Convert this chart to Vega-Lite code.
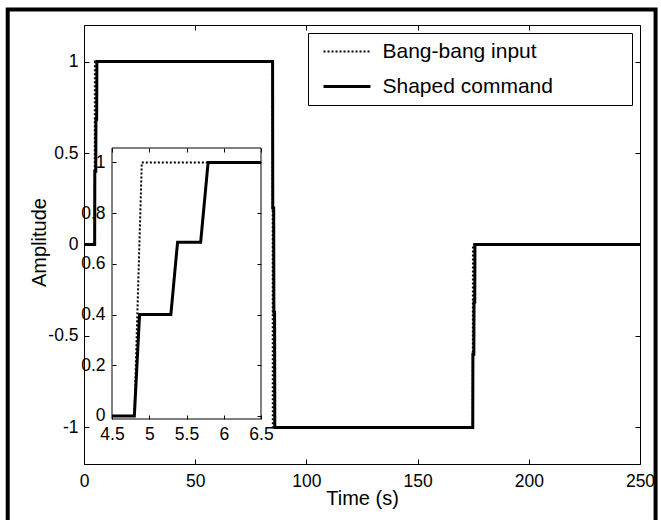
{
  "$schema": "https://vega.github.io/schema/vega-lite/v6.json",
  "width": 556,
  "height": 439,
  "autosize": {"type": "none"},
  "padding": {"left": 84, "top": 25, "right": 21, "bottom": 56},
  "background": "white",
  "config": {
    "font": "Liberation Sans",
    "view": {"stroke": "black", "strokeWidth": 1},
    "axis": {
      "labelFont": "Liberation Sans",
      "labelFontSize": 17.5,
      "labelColor": "black",
      "tickColor": "black",
      "tickWidth": 1,
      "domainColor": "black",
      "domainWidth": 1,
      "titleColor": "black",
      "titleFont": "Liberation Sans",
      "titleFontSize": 20,
      "titleFontWeight": "normal",
      "grid": false,
      "labelFlush": false,
      "labelOverlap": false,
      "labelBound": false,
      "format": ".6~g",
      "labelExpr": "replace(datum.label, '\u2212', '-')"
    },
    "legend": {
      "orient": "top-right",
      "offset": 8,
      "padding": 8,
      "symbolStrokeColor": "black",
      "symbolStrokeWidth": 2.5,
      "labelFont": "Liberation Sans",
      "labelFontSize": 21,
      "labelColor": "black",
      "labelLimit": 1000,
      "strokeColor": "black",
      "fillColor": "white"
    }
  },
  "datasets": {
    "main": [
      {"series": "Bang-bang input", "t": 0, "v": 0},
      {"series": "Bang-bang input", "t": 4.8, "v": 0},
      {"series": "Bang-bang input", "t": 4.9, "v": 1},
      {"series": "Bang-bang input", "t": 84.8, "v": 1},
      {"series": "Bang-bang input", "t": 84.9, "v": -1},
      {"series": "Bang-bang input", "t": 174.8, "v": -1},
      {"series": "Bang-bang input", "t": 174.9, "v": 0},
      {"series": "Bang-bang input", "t": 250, "v": 0},
      {"series": "Shaped command", "t": 0, "v": 0},
      {"series": "Shaped command", "t": 4.8, "v": 0},
      {"series": "Shaped command", "t": 4.87, "v": 0.4},
      {"series": "Shaped command", "t": 5.29, "v": 0.4},
      {"series": "Shaped command", "t": 5.38, "v": 0.685},
      {"series": "Shaped command", "t": 5.69, "v": 0.685},
      {"series": "Shaped command", "t": 5.79, "v": 1},
      {"series": "Shaped command", "t": 84.8, "v": 1},
      {"series": "Shaped command", "t": 84.87, "v": 0.2},
      {"series": "Shaped command", "t": 85.29, "v": 0.2},
      {"series": "Shaped command", "t": 85.38, "v": -0.37},
      {"series": "Shaped command", "t": 85.69, "v": -0.37},
      {"series": "Shaped command", "t": 85.79, "v": -1},
      {"series": "Shaped command", "t": 174.8, "v": -1},
      {"series": "Shaped command", "t": 174.87, "v": -0.6},
      {"series": "Shaped command", "t": 175.29, "v": -0.6},
      {"series": "Shaped command", "t": 175.38, "v": -0.315},
      {"series": "Shaped command", "t": 175.69, "v": -0.315},
      {"series": "Shaped command", "t": 175.79, "v": 0},
      {"series": "Shaped command", "t": 250, "v": 0}
    ],
    "inset": [
      {"series": "Bang-bang input", "t": 4.5, "v": 0},
      {"series": "Bang-bang input", "t": 4.8, "v": 0},
      {"series": "Bang-bang input", "t": 4.9, "v": 1},
      {"series": "Bang-bang input", "t": 6.5, "v": 1},
      {"series": "Shaped command", "t": 4.5, "v": 0},
      {"series": "Shaped command", "t": 4.8, "v": 0},
      {"series": "Shaped command", "t": 4.87, "v": 0.4},
      {"series": "Shaped command", "t": 5.29, "v": 0.4},
      {"series": "Shaped command", "t": 5.38, "v": 0.685},
      {"series": "Shaped command", "t": 5.69, "v": 0.685},
      {"series": "Shaped command", "t": 5.79, "v": 1},
      {"series": "Shaped command", "t": 6.5, "v": 1}
    ],
    "frame": [{}]
  },
  "layer": [
    {
      "layer": [
        {
          "data": {"name": "main"},
          "mark": {"type": "line", "color": "black", "strokeCap": "butt"},
          "encoding": {
            "x": {
              "field": "t", "type": "quantitative",
              "scale": {"domain": [0, 250], "nice": false, "zero": false},
              "axis": {
                "orient": "bottom", "values": [0, 50, 100, 150, 200, 250],
                "tickSize": -5, "labelPadding": 13, "domain": false,
                "title": "Time (s)", "titleX": 278, "titleY": 40,
                "titleBaseline": "alphabetic", "titleAlign": "center"
              }
            },
            "y": {
              "field": "v", "type": "quantitative",
              "scale": {"domain": [-1.2, 1.2], "nice": false, "zero": false},
              "axis": {
                "orient": "left", "values": [-1, -0.5, 0, 0.5, 1],
                "tickSize": -5, "labelPadding": 11, "domain": false,
                "title": "Amplitude", "titleX": -39, "titleY": 217,
                "titleAngle": -90, "titleBaseline": "alphabetic", "titleAlign": "center"
              }
            },
            "strokeDash": {
              "field": "series", "type": "nominal",
              "scale": {"domain": ["Bang-bang input", "Shaped command"], "range": [[2, 2], [1, 0]]},
              "legend": {
                "title": "\u00a0",
                "titleOrient": "right", "titlePadding": 71, "titleFontSize": 21, "titleFont": "Liberation Sans",
                "symbolType": "M-4,0H4", "symbolSize": 138, "symbolOffset": 20.5, "labelOffset": 25, "rowPadding": 13
              }
            },
            "strokeWidth": {
              "field": "series", "type": "nominal",
              "scale": {"domain": ["Bang-bang input", "Shaped command"], "range": [2, 3]},
              "legend": null
            }
          }
        },
        {
          "data": {"name": "frame"},
          "mark": {"type": "rect", "fill": null, "stroke": "black", "strokeWidth": 4},
          "encoding": {
            "x": {
              "datum": -34.3, "type": "quantitative",
              "scale": {"domain": [0, 250], "nice": false, "zero": false},
              "axis": {"orient": "top", "values": [0, 50, 100, 150, 200, 250], "tickSize": -5, "labels": false, "domain": false, "title": null}
            },
            "x2": {"datum": 257},
            "y": {
              "datum": 1.285, "type": "quantitative",
              "scale": {"domain": [-1.2, 1.2], "nice": false, "zero": false},
              "axis": {"orient": "right", "values": [-1, -0.5, 0, 0.5, 1], "tickSize": -5, "labels": false, "domain": false, "title": null}
            },
            "y2": {"datum": -1.54}
          }
        }
      ],
      "resolve": {"axis": {"x": "independent", "y": "independent"}}
    },
    {
      "layer": [
        {
          "data": {"name": "inset"},
          "mark": {"type": "line", "color": "black", "strokeCap": "butt"},
          "encoding": {
            "x": {
              "field": "t", "type": "quantitative",
              "scale": {"domain": [4.5, 6.5], "range": [28, 177], "nice": false, "zero": false},
              "axis": {
                "orient": "bottom", "offset": -45, "values": [4.5, 5, 5.5, 6, 6.5],
                "tickSize": -4, "labelPadding": 10, "domain": false, "title": null
              }
            },
            "y": {
              "field": "v", "type": "quantitative",
              "scale": {"domain": [-0.012, 1.057], "range": [394, 123], "nice": false, "zero": false},
              "axis": {
                "orient": "left", "offset": -28, "values": [0, 0.2, 0.4, 0.6, 0.8, 1],
                "tickSize": -4, "labelPadding": 11, "domain": false, "title": null
              }
            },
            "strokeDash": {
              "field": "series", "type": "nominal",
              "scale": {"domain": ["Bang-bang input", "Shaped command"], "range": [[2, 2], [1, 0]]},
              "legend": null
            },
            "strokeWidth": {
              "field": "series", "type": "nominal",
              "scale": {"domain": ["Bang-bang input", "Shaped command"], "range": [2, 3]},
              "legend": null
            }
          }
        },
        {
          "data": {"name": "frame"},
          "mark": {"type": "rect", "fill": null, "stroke": "black", "strokeWidth": 1},
          "encoding": {
            "x": {
              "datum": 4.5, "type": "quantitative",
              "scale": {"domain": [4.5, 6.5], "range": [28, 177], "nice": false, "zero": false},
              "axis": {"orient": "top", "offset": -123, "values": [4.5, 5, 5.5, 6, 6.5], "tickSize": -4, "labels": false, "domain": false, "title": null}
            },
            "x2": {"datum": 6.5},
            "y": {
              "datum": -0.012, "type": "quantitative",
              "scale": {"domain": [-0.012, 1.057], "range": [394, 123], "nice": false, "zero": false},
              "axis": {"orient": "right", "offset": -379, "values": [0, 0.2, 0.4, 0.6, 0.8, 1], "tickSize": -4, "labels": false, "domain": false, "title": null}
            },
            "y2": {"datum": 1.057}
          }
        }
      ],
      "resolve": {"axis": {"x": "independent", "y": "independent"}}
    }
  ],
  "resolve": {
    "scale": {"x": "independent", "y": "independent"},
    "axis": {"x": "independent", "y": "independent"}
  }
}
